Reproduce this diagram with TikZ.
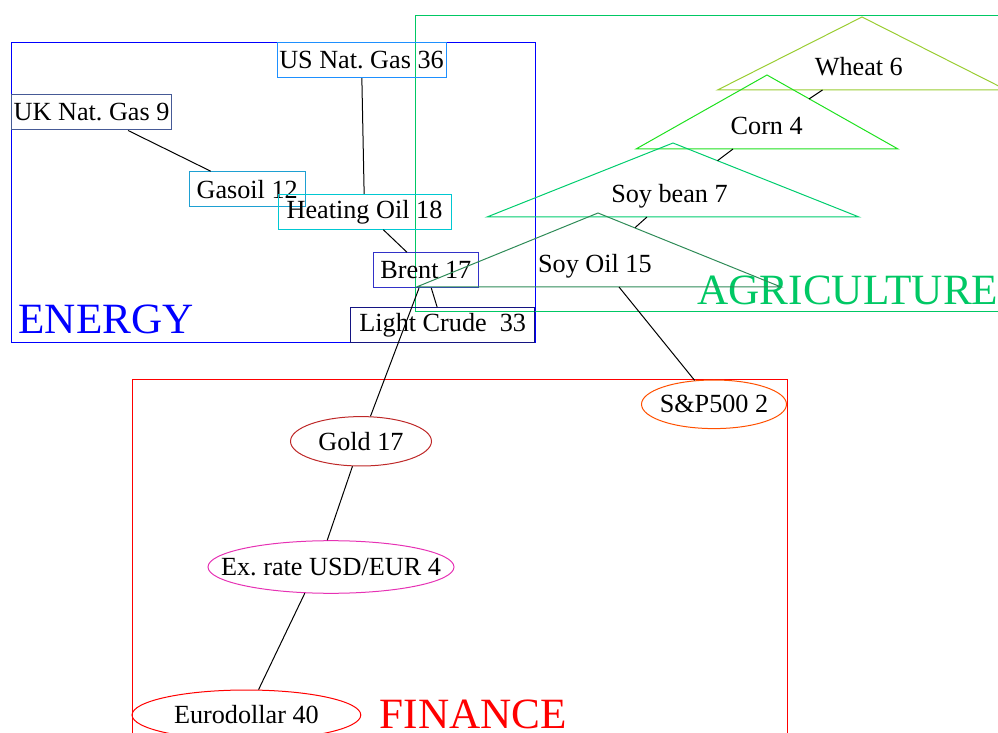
\documentclass[tikz,border=0pt]{standalone}
\usepackage{fontspec}
\setmainfont{Liberation Serif}
\usetikzlibrary{shapes.geometric}
\frenchspacing

\definecolor{energyblue}{RGB}{0,0,255}
\definecolor{agrigreen}{RGB}{0,200,100}
\definecolor{usgas}{RGB}{30,144,255}
\definecolor{ukgas}{RGB}{70,90,150}
\definecolor{gasoil}{RGB}{30,160,210}
\definecolor{heating}{RGB}{0,200,210}
\definecolor{brent}{RGB}{50,50,200}
\definecolor{crude}{RGB}{20,20,130}
\definecolor{wheat}{RGB}{154,205,50}
\definecolor{corn}{RGB}{30,225,30}
\definecolor{soybean}{RGB}{0,205,110}
\definecolor{soyoil}{RGB}{46,139,87}
\definecolor{spx}{RGB}{255,80,0}
\definecolor{gold}{RGB}{190,40,40}
\definecolor{exrate}{RGB}{230,50,180}

\begin{document}
\begin{tikzpicture}[x=0.5pt, y=-0.5pt, line width=0.5pt,
  every node/.style={font=\fontsize{13.1}{15}\selectfont\frenchspacing, inner sep=0pt},
  box/.style={draw, rectangle, minimum height=17.5pt},
  oval/.style={draw, ellipse},
  tag/.style={font=\fontsize{21.6}{24}\selectfont, anchor=base west}]
\useasboundingbox (0,0) rectangle (998,733);

\draw [energyblue] (11.7,42.7) rectangle (535,342.7);
\draw [agrigreen] (415.6,16) rectangle (1010,311.5);
\draw [red] (132.5,379.3) rectangle (787,745);
\node [tag, text=energyblue] (energy) at (18,333.3) {ENERGY};
\node [tag, text=agrigreen] (agri) at (697,305) {AGRICULTURE};
\node [tag, text=red] (finance) at (379.4,728.3) {FINANCE};

\node [box, usgas, text=black, minimum width=84.5pt] (usgas) at (361.5,60.2) {US Nat. Gas 36};
\node [box, ukgas, text=black, minimum width=80pt] (ukgas) at (91.6,112.5) {UK Nat. Gas 9};
\node [box, gasoil, text=black, minimum width=58.2pt] (gasoil) at (247.2,189.2) {Gasoil 12};
\node [box, heating, text=black, minimum width=86.5pt] (heating) at (364.5,211.8) {Heating Oil 18};
\node [box, brent, text=black, minimum width=52.8pt] (brent) at (425.8,270.2) {Brent 17};
\node [box, crude, text=black, minimum width=92.2pt] (crude) at (442.7,325.2) {Light Crude\ \ 33};

\draw [wheat] (717.5,90) -- (862,17) -- (1006.5,90) -- cycle;
\draw [corn] (636,149) -- (767,75) -- (898,149) -- cycle;
\draw [soybean] (487,217) -- (673,143) -- (859,217) -- cycle;
\draw [soyoil] (416.5,287) -- (598,213) -- (781,287) -- cycle;
\node [anchor=base] (wheatlbl) at (858.8,76) {Wheat 6};
\node [anchor=base] (cornlbl) at (766.7,134.7) {Corn 4};
\node [anchor=base] (soybeanlbl) at (669.5,202.7) {Soy bean 7};
\node [anchor=base] (soyoillbl) at (594.9,272.7) {Soy Oil 15};
\coordinate (wheat-s) at (822.5,90);
\coordinate (corn-n) at (809,99);
\coordinate (corn-s) at (733,149);
\coordinate (soybean-n) at (717.5,160.7);
\coordinate (soybean-s) at (647,217);
\coordinate (soyoil-n) at (635,227.7);
\coordinate (soyoil-s) at (619,287);

\node [oval, spx, text=black, inner xsep=-2.1pt, minimum width=72.5pt, minimum height=24.3pt] (spx) at (714,404.3) {S\&P500 2};
\node [oval, gold, text=black, minimum width=70.5pt, minimum height=24.7pt] (gold) at (361,441.3) {Gold 17};
\node [oval, exrate, text=black, inner xsep=-14pt, minimum width=123pt, minimum height=26.3pt] (exrate) at (331,567) {Ex. rate USD/EUR 4};
\node [oval, red, text=black, minimum width=114.4pt, minimum height=25pt] (euro) at (246.4,715) {Eurodollar 40};

\draw (ukgas) -- (gasoil);
\draw (usgas) -- (heating);
\draw (heating) -- (brent);
\draw (brent) -- (crude);
\draw (brent) -- (gold);
\draw (gold) -- (exrate.98);
\draw (exrate.225) -- (euro);
\draw (soyoil-s) -- (spx);
\draw (wheat-s) -- (corn-n);
\draw (corn-s) -- (soybean-n);
\draw (soybean-s) -- (soyoil-n);
\end{tikzpicture}
\end{document}
